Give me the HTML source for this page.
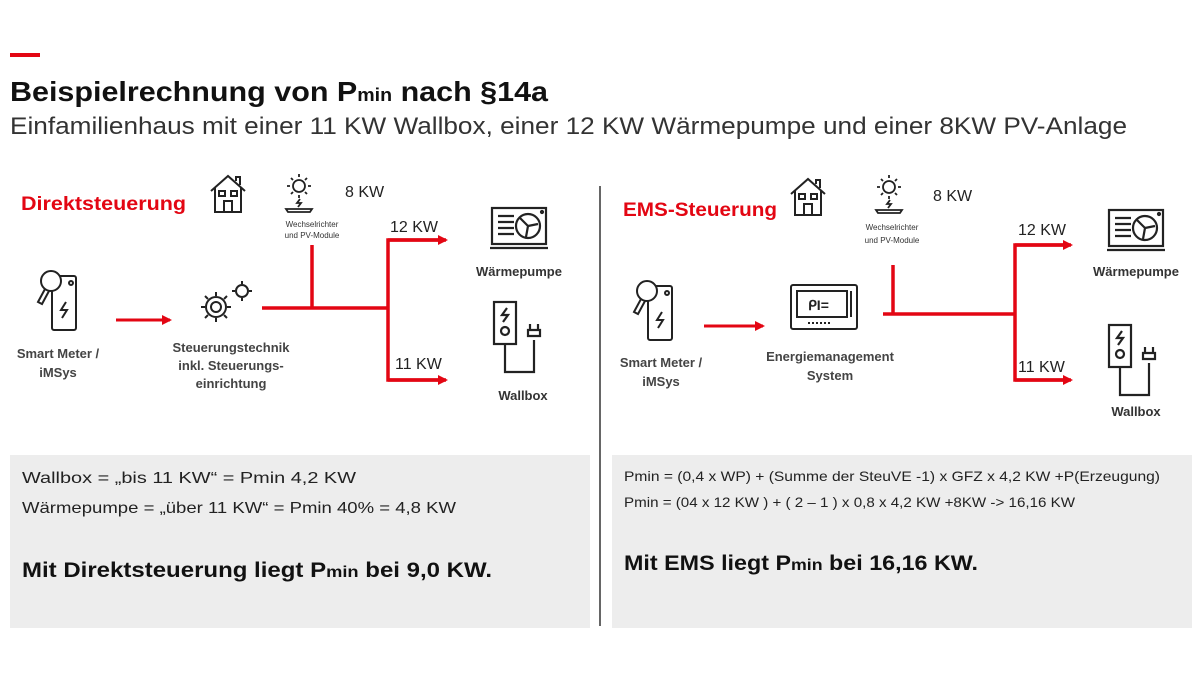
<!DOCTYPE html>
<html><head><meta charset="utf-8"><style>
html,body{margin:0;padding:0;background:#fff;}
svg{display:block;}
text{font-family:"Liberation Sans",sans-serif;}
</style></head><body>
<svg width="1200" height="675" viewBox="0 0 1200 675" xmlns="http://www.w3.org/2000/svg">
<defs>
<marker id="ar" markerWidth="10" markerHeight="10" refX="8" refY="5" orient="auto" markerUnits="userSpaceOnUse"><path d="M0,0 L10,5 L0,10 z" fill="#e30613"/></marker>
<g id="house" fill="none" stroke="#222" stroke-width="2"><path d="M2,17 L19,2 L36,17 M6,14 V38 H32 V14 M27,7 V3 H31 V11"/><rect x="10" y="17" width="6" height="5"/><rect x="22" y="17" width="6" height="5"/><path d="M15,38 V27 H23 V38"/></g>
<g id="sun" fill="none" stroke="#222" stroke-width="1.8"><circle cx="15" cy="14" r="6"/><path d="M15,2 V5 M15,23 V26 M3,14 H6 M24,14 H27 M7,6 L9,8 M23,6 L21,8 M7,22 L9,20 M23,22 L21,20"/><path d="M16,27 L13,31 H17 L14,35"/><path d="M4,40 H26 L28,37 H2 Z"/></g>
<g id="meter" fill="none" stroke="#222" stroke-width="2"><rect x="16" y="6" width="24" height="54" rx="2"/><circle cx="35" cy="13" r="2"/><circle cx="15" cy="11" r="10" fill="#fff"/><path d="M9,19 L2,32 L6,34 L13,21"/><path d="M30,32 L25,40 H31 L26,48"/></g>
<g id="hp" fill="none" stroke="#222" stroke-width="2.2"><rect x="2" y="2" width="54" height="36"/><path d="M0,42 H58"/><path d="M8,10 H24 M8,16 H24 M8,22 H24 M8,28 H24"/><circle cx="38" cy="20" r="12"/><path d="M38,20 L30,12 M38,20 L48,18 M38,20 L36,31"/><circle cx="52" cy="6" r="1"/></g>
<g id="wb" fill="none" stroke="#222" stroke-width="2.2"><rect x="2" y="2" width="22" height="42"/><path d="M15,8 L10,15 H16 L11,22"/><circle cx="13" cy="31" r="4"/><path d="M13,44 V72 H42 V40 M36,30 V36 H48 V30 Z M38,30 V24 M46,30 V24"/></g>
</defs>

<rect x="10" y="53" width="30" height="4" fill="#e30613"/>
<text x="10" y="101" font-size="28" font-weight="bold" fill="#111" textLength="538" lengthAdjust="spacingAndGlyphs">Beispielrechnung von P<tspan font-size="18">min</tspan> nach §14a</text>
<text x="10" y="134" font-size="24" fill="#333" textLength="1117" lengthAdjust="spacingAndGlyphs">Einfamilienhaus mit einer 11 KW Wallbox, einer 12 KW Wärmepumpe und einer 8KW PV-Anlage</text>

<line x1="600" y1="186" x2="600" y2="626" stroke="#666" stroke-width="2"/>

<!-- LEFT -->
<text x="21" y="210" font-size="19" font-weight="bold" fill="#e30613" textLength="165" lengthAdjust="spacingAndGlyphs">Direktsteuerung</text>
<use href="#house" x="209" y="174"/>
<use href="#sun" x="284" y="172"/>
<text x="345" y="197" font-size="16" fill="#222">8 KW</text>
<text x="312" y="227" font-size="8" fill="#333" text-anchor="middle">Wechselrichter</text>
<text x="312" y="238" font-size="8" fill="#333" text-anchor="middle">und PV-Module</text>
<g stroke="#e30613" stroke-width="3.5" fill="none">
<line x1="312" y1="245" x2="312" y2="308"/>
<line x1="262" y1="308" x2="388" y2="308"/>
<polyline points="440,240 388,240 388,380 440,380" />
</g>
<line x1="388" y1="240" x2="446" y2="240" stroke="#e30613" stroke-width="3.5" marker-end="url(#ar)"/>
<line x1="388" y1="380" x2="446" y2="380" stroke="#e30613" stroke-width="3.5" marker-end="url(#ar)"/>
<line x1="116" y1="320" x2="170" y2="320" stroke="#e30613" stroke-width="3" marker-end="url(#ar)"/>
<text x="390" y="232" font-size="16" fill="#222">12 KW</text>
<text x="395" y="369" font-size="16" fill="#222">11 KW</text>
<use href="#meter" x="36" y="270"/>
<text x="58" y="358" font-size="13" font-weight="bold" fill="#444" text-anchor="middle">Smart Meter /</text>
<text x="58" y="377" font-size="13" font-weight="bold" fill="#444" text-anchor="middle">iMSys</text>
<g fill="none" stroke="#222" stroke-width="2"><circle cx="216" cy="307" r="10"/><circle cx="216" cy="307" r="5"/><circle cx="242" cy="291" r="6"/>
<path d="M216,292 V296 M216,318 V322 M201,307 H205 M227,307 H231 M205,296 L208,299 M227,296 L224,299 M205,318 L208,315 M227,318 L224,315 M242,281 V284 M242,298 V301 M232,291 H235 M249,291 H252"/></g>
<text x="231" y="352" font-size="13" font-weight="bold" fill="#444" text-anchor="middle">Steuerungstechnik</text>
<text x="231" y="370" font-size="13" font-weight="bold" fill="#444" text-anchor="middle">inkl. Steuerungs-</text>
<text x="231" y="388" font-size="13" font-weight="bold" fill="#444" text-anchor="middle">einrichtung</text>
<use href="#hp" x="490" y="206"/>
<text x="519" y="276" font-size="13" font-weight="bold" fill="#333" text-anchor="middle">Wärmepumpe</text>
<use href="#wb" x="492" y="300"/>
<text x="523" y="400" font-size="13" font-weight="bold" fill="#333" text-anchor="middle">Wallbox</text>

<!-- RIGHT -->
<text x="623" y="216" font-size="19" font-weight="bold" fill="#e30613" textLength="154" lengthAdjust="spacingAndGlyphs">EMS-Steuerung</text>
<use href="#house" x="789" y="177"/>
<use href="#sun" x="874" y="173"/>
<text x="933" y="201" font-size="16" fill="#222">8 KW</text>
<text x="892" y="230" font-size="8" fill="#333" text-anchor="middle">Wechselrichter</text>
<text x="892" y="243" font-size="8" fill="#333" text-anchor="middle">und PV-Module</text>
<g stroke="#e30613" stroke-width="3.5" fill="none">
<line x1="893" y1="265" x2="893" y2="314"/>
<line x1="883" y1="314" x2="1015" y2="314"/>
<polyline points="1064,245 1015,245 1015,380 1064,380"/>
</g>
<line x1="1015" y1="245" x2="1071" y2="245" stroke="#e30613" stroke-width="3.5" marker-end="url(#ar)"/>
<line x1="1015" y1="380" x2="1071" y2="380" stroke="#e30613" stroke-width="3.5" marker-end="url(#ar)"/>
<line x1="704" y1="326" x2="763" y2="326" stroke="#e30613" stroke-width="3" marker-end="url(#ar)"/>
<text x="1018" y="235" font-size="16" fill="#222">12 KW</text>
<text x="1018" y="372" font-size="16" fill="#222">11 KW</text>
<use href="#meter" x="632" y="280"/>
<text x="661" y="367" font-size="13" font-weight="bold" fill="#444" text-anchor="middle">Smart Meter /</text>
<text x="661" y="386" font-size="13" font-weight="bold" fill="#444" text-anchor="middle">iMSys</text>
<g fill="none" stroke="#222" stroke-width="2"><rect x="791" y="285" width="66" height="44" rx="2"/><rect x="797" y="291" width="50" height="26"/><path d="M851,291 V317"/><text x="808" y="310" font-size="14" font-weight="bold" fill="#222" stroke="none">ᑭI=</text><path d="M808,323 H830" stroke-dasharray="2,2"/></g>
<text x="830" y="361" font-size="13" font-weight="bold" fill="#444" text-anchor="middle">Energiemanagement</text>
<text x="830" y="380" font-size="13" font-weight="bold" fill="#444" text-anchor="middle">System</text>
<use href="#hp" x="1107" y="208"/>
<text x="1136" y="276" font-size="13" font-weight="bold" fill="#333" text-anchor="middle">Wärmepumpe</text>
<use href="#wb" x="1107" y="323"/>
<text x="1136" y="416" font-size="13" font-weight="bold" fill="#333" text-anchor="middle">Wallbox</text>

<!-- bottom boxes -->
<rect x="10" y="455" width="580" height="173" fill="#ededed"/>
<rect x="612" y="455" width="580" height="173" fill="#ededed"/>
<text x="22" y="483" font-size="16" fill="#222" textLength="334" lengthAdjust="spacingAndGlyphs">Wallbox = „bis 11 KW“ = Pmin 4,2 KW</text>
<text x="22" y="513" font-size="16" fill="#222" textLength="434" lengthAdjust="spacingAndGlyphs">Wärmepumpe = „über 11 KW“ = Pmin 40% = 4,8 KW</text>
<text x="22" y="577" font-size="21" font-weight="bold" fill="#111" textLength="470" lengthAdjust="spacingAndGlyphs">Mit Direktsteuerung liegt P<tspan font-size="16">min</tspan> bei 9,0 KW.</text>
<text x="624" y="481" font-size="14" fill="#222" textLength="536" lengthAdjust="spacingAndGlyphs">Pmin = (0,4 x WP) + (Summe der SteuVE -1) x GFZ x 4,2 KW +P(Erzeugung)</text>
<text x="624" y="507" font-size="14" fill="#222" textLength="451" lengthAdjust="spacingAndGlyphs">Pmin = (04 x 12 KW ) + ( 2 – 1 ) x 0,8 x 4,2 KW +8KW -&gt; 16,16 KW</text>
<text x="624" y="570" font-size="21" font-weight="bold" fill="#111" textLength="354" lengthAdjust="spacingAndGlyphs">Mit EMS liegt P<tspan font-size="16">min</tspan> bei 16,16 KW.</text>
</svg>
</body></html>
